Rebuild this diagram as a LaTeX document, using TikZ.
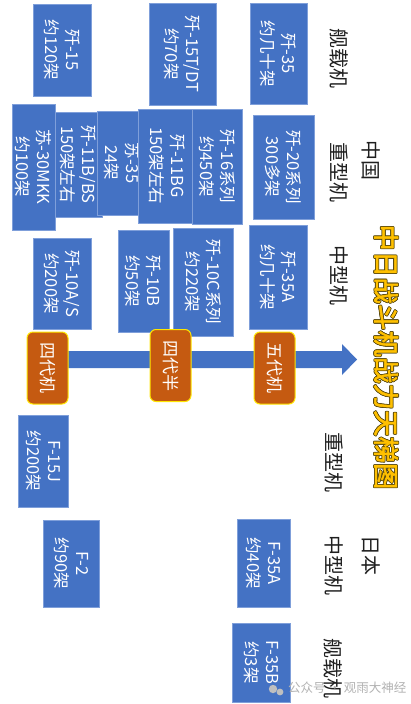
\documentclass[tikz,border=0pt]{standalone}
\usepackage{fontspec}
\setmainfont{Noto Sans CJK SC}
\newfontfamily\titlefont[FakeBold=2,LetterSpace=2]{Noto Sans CJK SC}
\usetikzlibrary{calc}
\definecolor{boxblue}{HTML}{4472C4}
\definecolor{boxedge}{HTML}{7F9FDA}
\definecolor{tagorange}{HTML}{C55A11}
\definecolor{tagyellow}{HTML}{FFE600}
\definecolor{titleyellow}{HTML}{FFC000}
\definecolor{titleedge}{HTML}{5A4A10}
\begin{document}
\begin{tikzpicture}[x=1pt,y=-1pt,
  box/.style={rotate=-90, fill=boxblue, draw=boxedge, line width=0.6pt, text=white,
    align=center, inner sep=0pt, font=\fontsize{16.5}{21}\selectfont},
  tag/.style={rotate=-90, fill=tagorange, draw=tagyellow, line width=1pt, rounded corners=6pt,
    text=white, inner sep=0pt, minimum width=72pt, minimum height=41pt, font=\fontsize{17}{20}\selectfont},
  lab/.style={rotate=-90, inner sep=0pt, text=black!88, font=\fontsize{20}{24}\selectfont},
  ttl/.style={rotate=-90, inner sep=0pt, font=\titlefont\fontsize{26}{30}\selectfont},
  wmark/.style={inner sep=0pt, text=black!30, font=\fontsize{12.5}{14}\selectfont}
]
\useasboundingbox (0,0) rectangle (410,704);
\fill[white] (0,0) rectangle (410,704);

% arrow
\fill[boxblue] (40,351) -- (342,351) -- (342,344) -- (357,359.5) -- (342,375) -- (342,368) -- (40,368) -- cycle;

% China carrier
\node[box, minimum width=92pt, minimum height=58pt] (j15) at (62,50) {歼-15\\约120架};
\node[box, minimum width=102pt, minimum height=67pt] (j15t) at (182.5,54) {歼-15T/DT\\约70架};
\node[box, minimum width=101pt, minimum height=57pt] (j35) at (278.5,53.5) {歼-35\\约几十架};

% China heavy
\node[box, minimum width=126pt, minimum height=43pt] (su30) at (33.5,167) {苏-30MKK\\约100架};
\node[box, minimum width=105pt, minimum height=47pt] (j11b) at (78.5,164.5) {歼-11B/BS\\150架左右};
\node[box, minimum width=104pt, minimum height=50pt] (su35) at (122,163) {苏-35\\24架};
\node[box, minimum width=114pt, minimum height=59pt] (j11bg) at (167.5,166) {歼-11BG\\150架左右};
\node[box, minimum width=115pt, minimum height=50pt] (j16) at (217,166.5) {歼-16系列\\约450架};
\node[box, minimum width=104pt, minimum height=61pt] (j20) at (283.5,167) {歼-20系列\\300多架};

% China medium
\node[box, minimum width=91pt, minimum height=58pt] (j10a) at (62,283.5) {歼-10A/S\\约200架};
\node[box, minimum width=102pt, minimum height=51pt] (j10b) at (143.5,281) {歼-10B\\约50架};
\node[box, minimum width=108pt, minimum height=60pt] (j10c) at (203,282) {歼-10C系列\\约220架};
\node[box, minimum width=104pt, minimum height=58pt] (j35a) at (278,277) {歼-35A\\约几十架};

% generation tags
\node[tag] (g4) at (47.5,368) {四代机};
\node[tag] (g45) at (170.5,365.5) {四代半};
\node[tag] (g5) at (274.5,368) {五代机};

% Japan
\node[box, minimum width=92pt, minimum height=50pt] (f15j) at (43,461) {F-15J\\约200架};
\node[box, minimum width=87pt, minimum height=56pt] (f2) at (71,563.5) {F-2\\约90架};
\node[box, minimum width=88pt, minimum height=53pt] (f35a) at (263.5,563) {F-35A\\约40架};
\node[box, minimum width=79pt, minimum height=58pt] (f35b) at (261,662.5) {F-35B\\约3架};

% row labels
\node[lab] (lc1) at (339,58) {舰载机};
\node[lab] (cn) at (371,160) {中国};
\node[lab] (lc2) at (339,172) {重型机};
\node[lab] (lc3) at (339,275) {中型机};
\node[lab] (lj1) at (334,462) {重型机};
\node[lab] (jp) at (371,555) {日本};
\node[lab] (lj2) at (334,565) {中型机};
\node[lab] (lj3) at (333,668) {舰载机};

% title with outline
\foreach \a [count=\i] in {0,45,...,315}{
  \node[ttl, text=titleedge] (to\i) at ($(386,357)+(\a:0.8pt)$) {中日战斗机战力天梯图};
}
\node[ttl, text=titleyellow] (title) at (386,357) {中日战斗机战力天梯图};

% watermark
\fill[black!25] (273,689) circle (4.2pt);
\fill[black!25] (280,692) circle (3.4pt);
\node[wmark, anchor=west] (wm) at (288,688) {公众号 · 观雨大神经};
\end{tikzpicture}
\end{document}
